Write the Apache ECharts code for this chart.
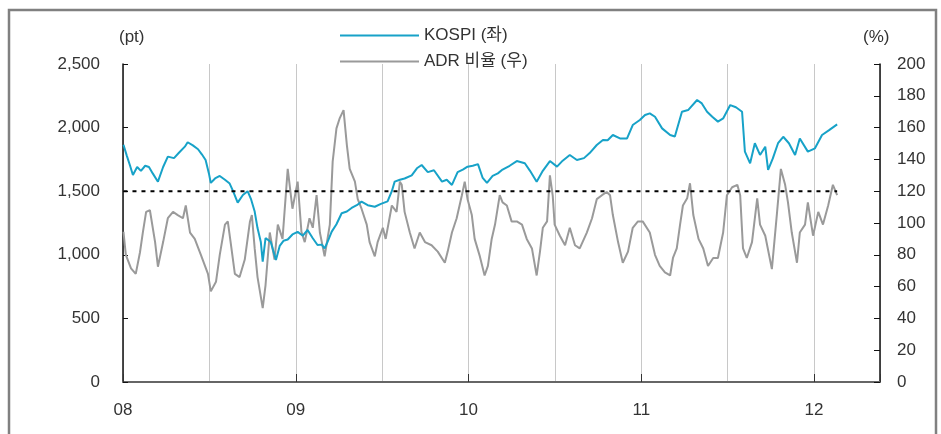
<!DOCTYPE html>
<html>
<head>
<meta charset="utf-8">
<script src="https://cdn.jsdelivr.net/npm/echarts@6/dist/echarts.min.js"></script>
<style>
html,body{margin:0;padding:0;background:#fff;}
#chart{width:941px;height:434px;}
</style>
</head>
<body>
<div id="chart"></div>
<script>
// ---- data ----
const kospiDates = ['2008-01-02','2008-01-09','2008-01-16','2008-01-22','2008-01-31','2008-02-08','2008-02-17','2008-02-25','2008-03-04','2008-03-15','2008-03-26','2008-04-05','2008-04-18','2008-04-28','2008-05-11','2008-05-17','2008-05-28','2008-06-08','2008-06-16','2008-06-24','2008-07-01','2008-07-05','2008-07-14','2008-07-24','2008-08-04','2008-08-14','2008-08-21','2008-08-31','2008-09-11','2008-09-21','2008-09-28','2008-10-06','2008-10-12','2008-10-19','2008-10-23','2008-10-29','2008-11-09','2008-11-20','2008-11-28','2008-12-06','2008-12-15','2008-12-25','2009-01-05','2009-01-16','2009-01-26','2009-02-06','2009-02-16','2009-02-25','2009-03-03','2009-03-09','2009-03-18','2009-03-28','2009-04-08','2009-04-19','2009-04-29','2009-05-10','2009-05-20','2009-06-02','2009-06-17','2009-06-30','2009-07-14','2009-07-23','2009-07-29','2009-08-09','2009-08-19','2009-09-03','2009-09-14','2009-09-24','2009-10-07','2009-10-20','2009-11-06','2009-11-16','2009-11-27','2009-12-09','2009-12-20','2009-12-30','2010-01-10','2010-01-21','2010-01-31','2010-02-09','2010-02-21','2010-03-04','2010-03-14','2010-03-29','2010-04-13','2010-04-30','2010-05-11','2010-05-25','2010-06-07','2010-06-22','2010-07-07','2010-07-19','2010-08-03','2010-08-18','2010-09-02','2010-09-14','2010-09-29','2010-10-12','2010-10-22','2010-11-02','2010-11-17','2010-12-02','2010-12-14','2010-12-29','2011-01-09','2011-01-19','2011-01-30','2011-02-14','2011-03-03','2011-03-13','2011-03-28','2011-04-10','2011-04-29','2011-05-09','2011-05-20','2011-05-31','2011-06-12','2011-06-23','2011-07-08','2011-07-20','2011-08-02','2011-08-08','2011-08-19','2011-08-29','2011-09-09','2011-09-20','2011-09-26','2011-10-06','2011-10-17','2011-10-28','2011-11-09','2011-11-22','2011-12-02','2011-12-19','2012-01-03','2012-01-18','2012-02-02','2012-02-19'];
const kospiValues = [1865,1780,1700,1627,1690,1660,1700,1690,1640,1575,1690,1772,1760,1800,1850,1885,1860,1830,1790,1745,1640,1565,1600,1620,1590,1560,1502,1410,1470,1500,1440,1340,1210,1100,946,1132,1100,959,1070,1110,1120,1160,1180,1150,1195,1130,1077,1080,1050,1100,1182,1240,1327,1340,1368,1390,1418,1390,1378,1400,1420,1500,1575,1590,1600,1625,1680,1706,1650,1665,1575,1590,1549,1650,1670,1693,1700,1713,1604,1565,1620,1640,1670,1700,1737,1720,1660,1575,1660,1737,1693,1740,1785,1745,1760,1800,1863,1903,1900,1942,1915,1915,2020,2060,2099,2112,2085,1994,1942,1930,2125,2138,2217,2190,2125,2085,2047,2072,2177,2160,2125,1811,1719,1877,1785,1850,1667,1758,1877,1928,1877,1785,1915,1811,1837,1942,1980,2025];

const adrDates = ['2008-01-02','2008-01-07','2008-01-18','2008-01-28','2008-02-06','2008-02-12','2008-02-19','2008-02-27','2008-03-09','2008-03-15','2008-03-26','2008-04-05','2008-04-16','2008-04-26','2008-05-07','2008-05-13','2008-05-22','2008-06-01','2008-06-14','2008-06-29','2008-07-05','2008-07-16','2008-07-24','2008-08-04','2008-08-10','2008-08-16','2008-08-25','2008-09-04','2008-09-15','2008-09-26','2008-09-30','2008-10-06','2008-10-12','2008-10-23','2008-10-29','2008-11-07','2008-11-17','2008-11-24','2008-12-04','2008-12-15','2008-12-25','2009-01-05','2009-01-13','2009-01-20','2009-01-30','2009-02-06','2009-02-14','2009-02-21','2009-03-03','2009-03-14','2009-03-20','2009-03-28','2009-04-04','2009-04-12','2009-04-19','2009-04-25','2009-05-06','2009-05-12','2009-05-20','2009-05-31','2009-06-06','2009-06-17','2009-06-23','2009-07-04','2009-07-10','2009-07-23','2009-08-02','2009-08-09','2009-08-13','2009-08-19','2009-08-30','2009-09-09','2009-09-20','2009-10-01','2009-10-15','2009-10-28','2009-11-12','2009-11-18','2009-11-27','2009-12-07','2009-12-18','2009-12-24','2009-12-30','2010-01-08','2010-01-14','2010-01-25','2010-02-04','2010-02-11','2010-02-19','2010-02-26','2010-03-08','2010-03-14','2010-03-23','2010-04-02','2010-04-13','2010-04-24','2010-05-04','2010-05-15','2010-05-25','2010-06-01','2010-06-07','2010-06-16','2010-06-22','2010-06-28','2010-07-02','2010-07-13','2010-07-24','2010-08-03','2010-08-14','2010-08-24','2010-09-08','2010-09-19','2010-09-29','2010-10-10','2010-10-20','2010-10-27','2010-11-02','2010-11-13','2010-11-23','2010-12-04','2010-12-14','2010-12-25','2011-01-04','2011-01-19','2011-01-30','2011-02-09','2011-02-20','2011-03-03','2011-03-09','2011-03-17','2011-03-24','2011-03-30','2011-04-08','2011-04-14','2011-04-21','2011-05-02','2011-05-12','2011-05-22','2011-06-02','2011-06-12','2011-06-23','2011-07-01','2011-07-12','2011-07-23','2011-07-29','2011-08-04','2011-08-12','2011-08-23','2011-09-03','2011-09-09','2011-09-20','2011-10-04','2011-10-15','2011-10-23','2011-11-01','2011-11-07','2011-11-15','2011-11-26','2011-12-02','2011-12-13','2011-12-19','2011-12-30','2012-01-10','2012-01-20','2012-01-31','2012-02-10','2012-02-19'];
const adrValues = [94.5,80,71.5,68,81.6,94,107,108,88,72.5,88,103,107,105,103,111,94,90,80,68,57,63,80,99,101,88,68,66,77,101,105,84,66,46.5,61,94,77,99,90,134,109,126,94.5,88,103,97,117.5,94,79,99,138.6,159.5,166,171,149,134,126,115,109,99,88,79,88,97,90,111,107,126,124,107,94,84,94,88,86,82,75,82,94,103,117.5,126,115,105,90,79,67,73,90,99,117.5,113,111,101,101,99,90,84,67,82,97,101,130,117,99,92,86,97,86,84,94,103,115,117.5,119.5,117.5,105,88,75,82,97,101,101,94,80,73,69,67,78,84,99,111,115.5,125,105,90,84,73,78,78,94,117.5,122.5,124,117.5,84,78,88,115.5,99,92,71,107,134,124,113,94,75,94,99,113,92,107,99,111,124,117.5];

const adrReference = 120;           // dotted reference level (%)
const yearTicks = ['08','09','10','11','12'];
const seriesNames = ['KOSPI (좌)', 'ADR 비율 (우)'];

// ---- helpers ----
function toYear(s) {
  const [y, m, d] = s.split('-').map(Number);
  const t = Date.UTC(y, m - 1, d);
  const a = Date.UTC(y, 0, 1), b = Date.UTC(y + 1, 0, 1);
  return y + (t - a) / (b - a);
}
const kospiData = kospiDates.map((d, i) => [toYear(d), kospiValues[i]]);
const adrData = adrDates.map((d, i) => [toYear(d), adrValues[i]]);
const refData = [[toYear(adrDates[0]), adrReference], [toYear(adrDates[adrDates.length - 1]), adrReference]];

const xMin = 2008, xMax = 2012.382;
const font = '"Liberation Sans", Arial, "Noto Sans CJK KR", sans-serif';
const textColor = '#333';
const kospiColor = '#17a2c8';
const adrColor = '#9a9a9a';

const chart = echarts.init(document.getElementById('chart'), null, {renderer: 'canvas'});
chart.setOption({
  animation: false,
  backgroundColor: '#fff',
  textStyle: {fontFamily: font},
  grid: {left: 123, right: 61, top: 64, bottom: 52, containLabel: false},
  legend: {
    data: [
      {name: seriesNames[0], icon: 'rect', itemStyle: {color: kospiColor}},
      {name: seriesNames[1], icon: 'rect', itemStyle: {color: adrColor}}
    ],
    orient: 'vertical',
    left: 340, top: 27, padding: 0,
    itemWidth: 79, itemHeight: 2, itemGap: 9,
    textStyle: {fontSize: 17, color: textColor, fontFamily: '"Liberation Sans", "Noto Sans CJK KR", sans-serif'}
  },
  graphic: [
    {type: 'rect', shape: {x: 9, y: 10, width: 927, height: 460}, style: {fill: 'none', stroke: '#808080', lineWidth: 2.5}, silent: true, z: 100},
    {type: 'text', left: 119, top: 29, style: {text: '(pt)', fontSize: 17, fill: textColor, fontFamily: font}},
    {type: 'text', left: 863, top: 29, style: {text: '(%)', fontSize: 17, fill: textColor, fontFamily: font}}
  ],
  xAxis: [
    {
      type: 'value', min: xMin, max: xMax, interval: 1,
      axisLine: {show: true, lineStyle: {color: '#666', width: 2}},
      axisTick: {show: true, inside: true, length: 8, lineStyle: {color: '#333', width: 1}},
      axisLabel: {
        margin: 20, fontSize: 17, color: textColor, fontFamily: font,
        formatter: v => {
          const i = Math.round(v - xMin);
          return Math.abs(v - xMin - i) < 1e-6 && yearTicks[i] ? yearTicks[i] : '';
        }
      },
      splitLine: {show: false}
    },
    {
      type: 'value', min: xMin, max: xMax, interval: 0.5, position: 'bottom',
      axisLine: {show: false}, axisTick: {show: false}, axisLabel: {show: false},
      splitLine: {show: true, lineStyle: {color: '#c8c8c8', width: 1}}
    }
  ],
  yAxis: [
    {
      type: 'value', min: 0, max: 2500, interval: 500, position: 'left',
      axisLine: {show: true, lineStyle: {color: '#111', width: 1.5}},
      axisTick: {show: true, inside: true, length: 5, lineStyle: {color: '#111'}},
      axisLabel: {margin: 23, fontSize: 17, color: textColor, fontFamily: font,
        formatter: v => v.toLocaleString('en-US')},
      splitLine: {show: false}
    },
    {
      type: 'value', min: 0, max: 200, interval: 20, position: 'right',
      axisLine: {show: true, lineStyle: {color: '#111', width: 1.5}},
      axisTick: {show: true, inside: true, length: 6, lineStyle: {color: '#111'}},
      axisLabel: {margin: 17, fontSize: 17, color: textColor, fontFamily: font},
      splitLine: {show: false}
    }
  ],
  series: [
    {
      name: seriesNames[1], type: 'line', xAxisIndex: 0, yAxisIndex: 1,
      data: adrData, symbol: 'none', showSymbol: false,
      lineStyle: {color: adrColor, width: 2}, itemStyle: {color: adrColor}, z: 2
    },
    {
      name: seriesNames[0], type: 'line', xAxisIndex: 0, yAxisIndex: 0,
      data: kospiData, symbol: 'none', showSymbol: false,
      lineStyle: {color: kospiColor, width: 2}, itemStyle: {color: kospiColor}, z: 3
    },
    {
      name: 'ref', type: 'line', xAxisIndex: 0, yAxisIndex: 1,
      data: refData, symbol: 'none', showSymbol: false,
      lineStyle: {color: '#000', width: 2, type: [4, 5]}, z: 4
    }
  ]
});
</script>
</body>
</html>
